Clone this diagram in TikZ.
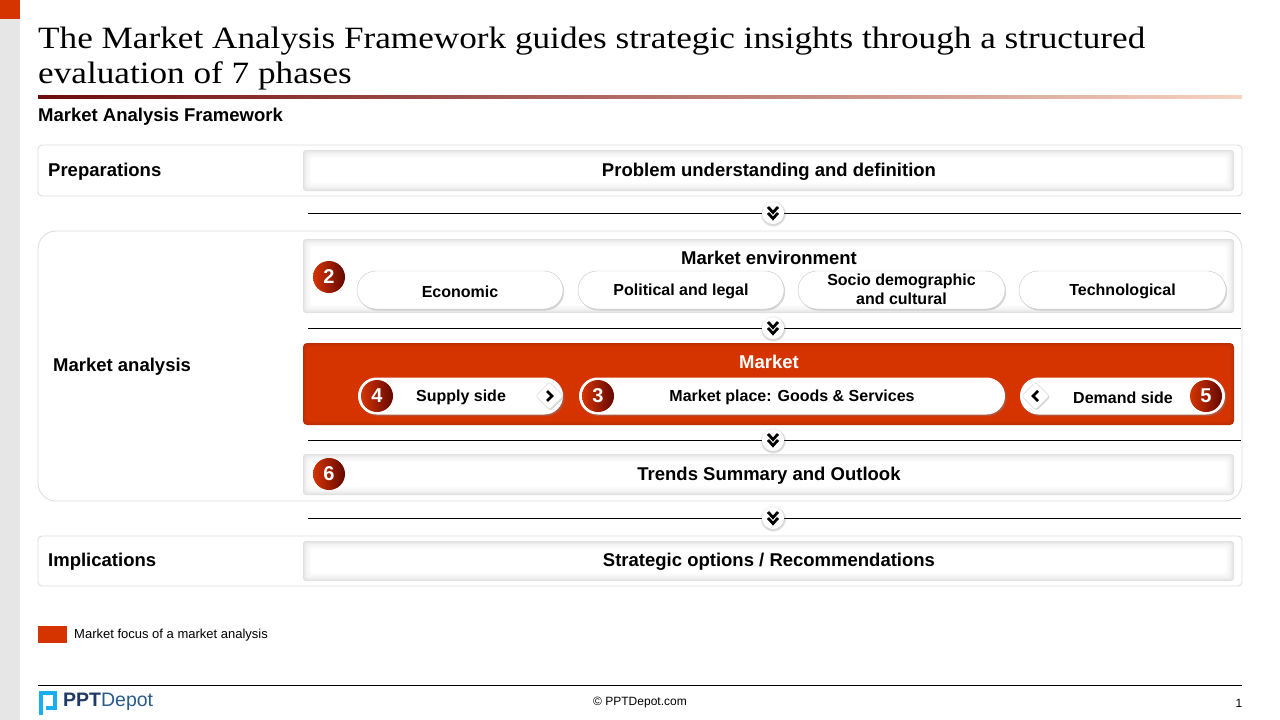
\documentclass[tikz,border=0pt]{standalone}
\usepackage{fontspec}
\setmainfont{Liberation Sans}
\newfontfamily\titlefont[FakeStretch=1.135]{Liberation Serif}
\usetikzlibrary{shadows,shapes.geometric}
\definecolor{brand}{HTML}{D53401}
\definecolor{darkred}{HTML}{640800}
\definecolor{sidebar}{HTML}{E6E6E6}
\definecolor{framegray}{HTML}{DEDEDE}
\definecolor{logocyan}{HTML}{19AEEF}
\definecolor{logonavy}{HTML}{1F3A66}
\definecolor{logoblue}{HTML}{2B5B8C}
\definecolor{lineA}{HTML}{6E0C0C}
\definecolor{lineB}{HTML}{C56B5E}
\definecolor{lineC}{HTML}{F6D2C4}
\newcommand\glowbox[4]{%
  \foreach \i/\c in {0/12,1/9,2/7,3/5,4/4,5/3,6/2,7/1,8/0}{%
    \fill[black!\c!white, rounded corners=3pt] ({#1+\i},{#2+\i}) rectangle ({#3-\i},{#4-\i});}}
\newcommand\brandbox[4]{%
  \foreach \i/\c in {0/88,1/92,2/95,3/98,4/100}{%
    \fill[brand!\c!black, rounded corners=4pt] ({#1+\i},{#2+\i}) rectangle ({#3-\i},{#4-\i});}}
\tikzset{
  rowlabel/.style={anchor=west, font=\bfseries\fontsize{18.5}{20}\selectfont, inner sep=0, yshift=-2pt},
  boxtext/.style={font=\bfseries\fontsize{18.5}{20}\selectfont, inner sep=0, yshift=-2pt},
  pilltext/.style={font=\bfseries\fontsize{16}{19}\selectfont, inner sep=0, align=center, yshift=-1.5pt},
  envpill/.style={draw=black!22, fill=white, rounded corners=19pt, minimum height=38pt, inner sep=0,
    drop shadow={shadow xshift=1.2pt, shadow yshift=-1.5pt, opacity=0.3}},
  mpill/.style={fill=white, rounded corners=18.5pt, minimum height=37pt, inner sep=0,
    drop shadow={shadow xshift=1.5pt, shadow yshift=-1.5pt, opacity=0.45}},
  numcirc/.style={circle, left color=brand, right color=darkred, text=white,
    font=\bfseries\fontsize{20}{20}\selectfont, minimum size=32pt, inner sep=0},
  arrowdiam/.style={diamond, fill=white, draw=black!12, line width=0.6pt, minimum size=28pt, inner sep=0, rounded corners=2.5pt,
    drop shadow={shadow xshift=1pt, shadow yshift=-1pt, opacity=0.35}},
  chevcirc/.style={circle, fill=white, minimum size=22pt, inner sep=0,
    circular drop shadow={shadow xshift=0pt, shadow yshift=-0.5pt, shadow scale=1.2, opacity=0.3}},
  chev/.style={line width=2.8pt, black, line cap=butt, line join=miter},
  sepline/.style={black, line width=0.9pt},
  frame/.style={draw=framegray, line width=0.9pt},
}
\begin{document}
\begin{tikzpicture}[x=1pt, y=-1pt]
\useasboundingbox (0,0) rectangle (1280,720);
\fill[white] (0,0) rectangle (1280,720);
\fill[sidebar] (0,0) rectangle (20,720);
\fill[brand] (0,0) rectangle (20,19);

% title
\node[anchor=base west, inner sep=0, font=\titlefont\fontsize{31}{36}\selectfont] (t1) at (38,48)
  {The Market Analysis Framework guides strategic insights through a structured};
\node[anchor=base west, inner sep=0, font=\titlefont\fontsize{31}{36}\selectfont] (t2) at (38,83)
  {evaluation of 7 phases};
\shade[left color=lineA, middle color=lineB, right color=lineC] (38,95) rectangle (1242,98.5);
\node[anchor=west, inner sep=0, font=\bfseries\fontsize{18.5}{20}\selectfont, yshift=-2pt] (sub) at (38,115) {Market Analysis Framework};

% outer frames
\draw[frame, rounded corners=4pt] (38,145) rectangle (1242,196);
\draw[frame, rounded corners=18pt] (38,231) rectangle (1242,501);
\draw[frame, rounded corners=4pt] (38,536) rectangle (1242,586);

\node[rowlabel] (lprep) at (48,170) {Preparations};
\node[rowlabel] (lmkt) at (53,365) {Market analysis};
\node[rowlabel] (limp) at (48,560) {Implications};

% preparations
\glowbox{303}{150}{1234}{191}
\node[boxtext] (prob) at (769,170) {Problem understanding and definition};

% market environment
\glowbox{303}{239}{1234}{313}
\node[boxtext] (menv) at (769,256) {Market environment};
\node[numcirc] (n2) at (329,277) {2};
\node[envpill, minimum width=206pt] (econ) at (460,290) {};
\node[envpill, minimum width=206pt] (pol) at (681,290) {};
\node[envpill, minimum width=207pt] (socio) at (901.5,290) {};
\node[envpill, minimum width=207pt] (tech) at (1122.5,290) {};
\node[pilltext] (econtx) at (econ) {Economic};
\node[pilltext] (poltx) at (pol) {Political and legal};
\node[pilltext, font=\bfseries\fontsize{16}{19}\selectfont] (sociotx) at ([yshift=2pt]socio.center) {Socio demographic\\and cultural};
\node[pilltext] (techtx) at (tech) {Technological};

% market
\brandbox{303}{343}{1234}{425}
\node[boxtext, text=white] (mkt) at (769,360) {Market};
\node[mpill, minimum width=205pt] (sup) at (460.5,396) {};
\node[pilltext] (suptx) at (461,396) {Supply side};
\node[numcirc] (n4) at (377,396) {4};
\node[arrowdiam] (d4) at (549.5,396) {};
\draw[chev] ([xshift=-2.5pt,yshift=5pt]d4.center) -- ([xshift=2.5pt]d4.center) -- ([xshift=-2.5pt,yshift=-5pt]d4.center);

\node[mpill, minimum width=426pt] (mp) at (792,396) {};
\node[pilltext] (mptx) at (792,396) {Market place: Goods \& Services};
\node[numcirc] (n3) at (598,396) {3};

\node[mpill, minimum width=205pt] (dem) at (1122.5,396) {};
\node[pilltext] (demtx) at (1123,396) {Demand side};
\node[numcirc] (n5) at (1206,396) {5};
\node[arrowdiam] (d5) at (1035.5,396) {};
\draw[chev] ([xshift=2.5pt,yshift=5pt]d5.center) -- ([xshift=-2.5pt]d5.center) -- ([xshift=2.5pt,yshift=-5pt]d5.center);

% trends
\glowbox{303}{454}{1234}{495}
\node[boxtext] (trend) at (769,474) {Trends Summary and Outlook};
\node[numcirc] (n6) at (329,474) {6};

% implications
\glowbox{303}{541}{1234}{581}
\node[boxtext] (strat) at (769,560) {Strategic options / Recommendations};

% separators with chevrons
\foreach \y/\nm in {213/a,328/b,440/c,518/d}{
  \coordinate (sl\nm) at (308,\y);
  \coordinate (sr\nm) at (1241,\y);
  \draw[sepline] (sl\nm) -- (sr\nm);
  \node[chevcirc] (cc\nm) at (773,\y) {};
  \draw[chev] ([xshift=-5pt,yshift=6pt]cc\nm.center) -- ([yshift=0.5pt]cc\nm.center) -- ([xshift=5pt,yshift=6pt]cc\nm.center);
  \draw[chev] ([xshift=-5pt,yshift=0pt]cc\nm.center) -- ([yshift=-5.5pt]cc\nm.center) -- ([xshift=5pt,yshift=0pt]cc\nm.center);
}

% legend
\node[fill=brand, minimum width=29pt, minimum height=17pt, inner sep=0, anchor=north west] (legbox) at (38,626) {};
\node[anchor=west, inner sep=0, font=\fontsize{13}{14}\selectfont] (legtx) at (74,635.5) {Market focus of a market analysis};

% footer
\coordinate (fl) at (38,685);
\coordinate (fr) at (1242,685);
\draw[black, line width=0.9pt] (fl) -- (fr);
\draw[logocyan, line width=4pt] (40.5,715) -- (40.5,692.5) -- (55,692.5) -- (55,707.5) -- (46,707.5);
\node[anchor=west, inner sep=0, font=\fontsize{19.5}{20}\selectfont] (logo) at (63,702)
  {\textcolor{logonavy}{\bfseries PPT}\textcolor{logoblue}{Depot}};
\node[inner sep=0, font=\fontsize{12}{14}\selectfont] (copy) at (640,703) {© PPTDepot.com};
\node[inner sep=0, font=\fontsize{12}{14}\selectfont] (pg) at (1239,703) {1};
\end{tikzpicture}
\end{document}
